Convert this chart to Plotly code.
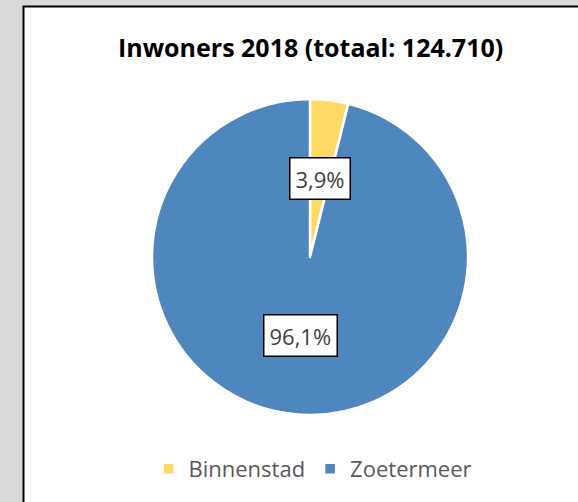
import math
import plotly.graph_objects as go

categories = ["Binnenstad", "Zoetermeer"]
values = [4864, 119846]
colors = ["#FFD966", "#4E87BE"]
title_text = "Inwoners 2018 (totaal: 124.710)"

W, H = 578, 502
cx, cy, r = 310, 257, 158  # pixel center/radius of the pie

fig = go.Figure()
fig.add_trace(go.Pie(
    labels=categories, values=values, sort=False, direction="clockwise", rotation=0,
    marker=dict(colors=colors, line=dict(color="white", width=2.5)),
    textinfo="none", hoverinfo="skip",
    domain=dict(x=[(cx - r) / W, (cx + r) / W], y=[(H - cy - r) / H, (H - cy + r) / H]),
))

total = sum(values)
cum = 0
annotations = []
for v in values:
    frac = v / total
    mid = (cum + frac / 2) * 2 * math.pi
    cum += frac
    px = cx + 0.5 * r * math.sin(mid)
    py = cy - 0.5 * r * math.cos(mid)
    txt = f"{frac * 100:.1f}%".replace(".", ",")
    annotations.append(dict(
        x=px / W, y=1 - py / H, xref="paper", yref="paper", text=txt, showarrow=False,
        font=dict(family="Open Sans", size=22, color="#404040"),
        bgcolor="white", bordercolor="black", borderwidth=1.5, borderpad=5,
        xanchor="center", yanchor="middle",
    ))

annotations.append(dict(
    x=310 / W, y=1 - 47 / H, xref="paper", yref="paper", text=f"<b>{title_text}</b>",
    showarrow=False, font=dict(family="Open Sans", size=25, color="black"),
    xanchor="center", yanchor="middle",
))

fig.update_layout(
    width=W, height=H, margin=dict(l=0, r=0, t=0, b=0),
    paper_bgcolor="#D9D9D9", plot_bgcolor="#D9D9D9",
    shapes=[dict(type="rect", xref="paper", yref="paper", x0=23.5 / W, x1=1.02, y0=-0.02, y1=1 - 6.5 / H,
                 fillcolor="white", line=dict(color="black", width=2), layer="below")],
    annotations=annotations,
    showlegend=True,
    legend=dict(orientation="h", x=313 / W, xanchor="center", y=1 - 469 / H, yanchor="middle",
                font=dict(family="Open Sans", size=22, color="#595959"), bgcolor="rgba(0,0,0,0)",
                itemwidth=30, itemclick=False),
)

fig.write_html("out.html", config={"displayModeBar": False}, post_script=(
    "document.body.style.margin='0';document.body.style.overflow='hidden';"
    "document.documentElement.style.overflow='hidden';"))
